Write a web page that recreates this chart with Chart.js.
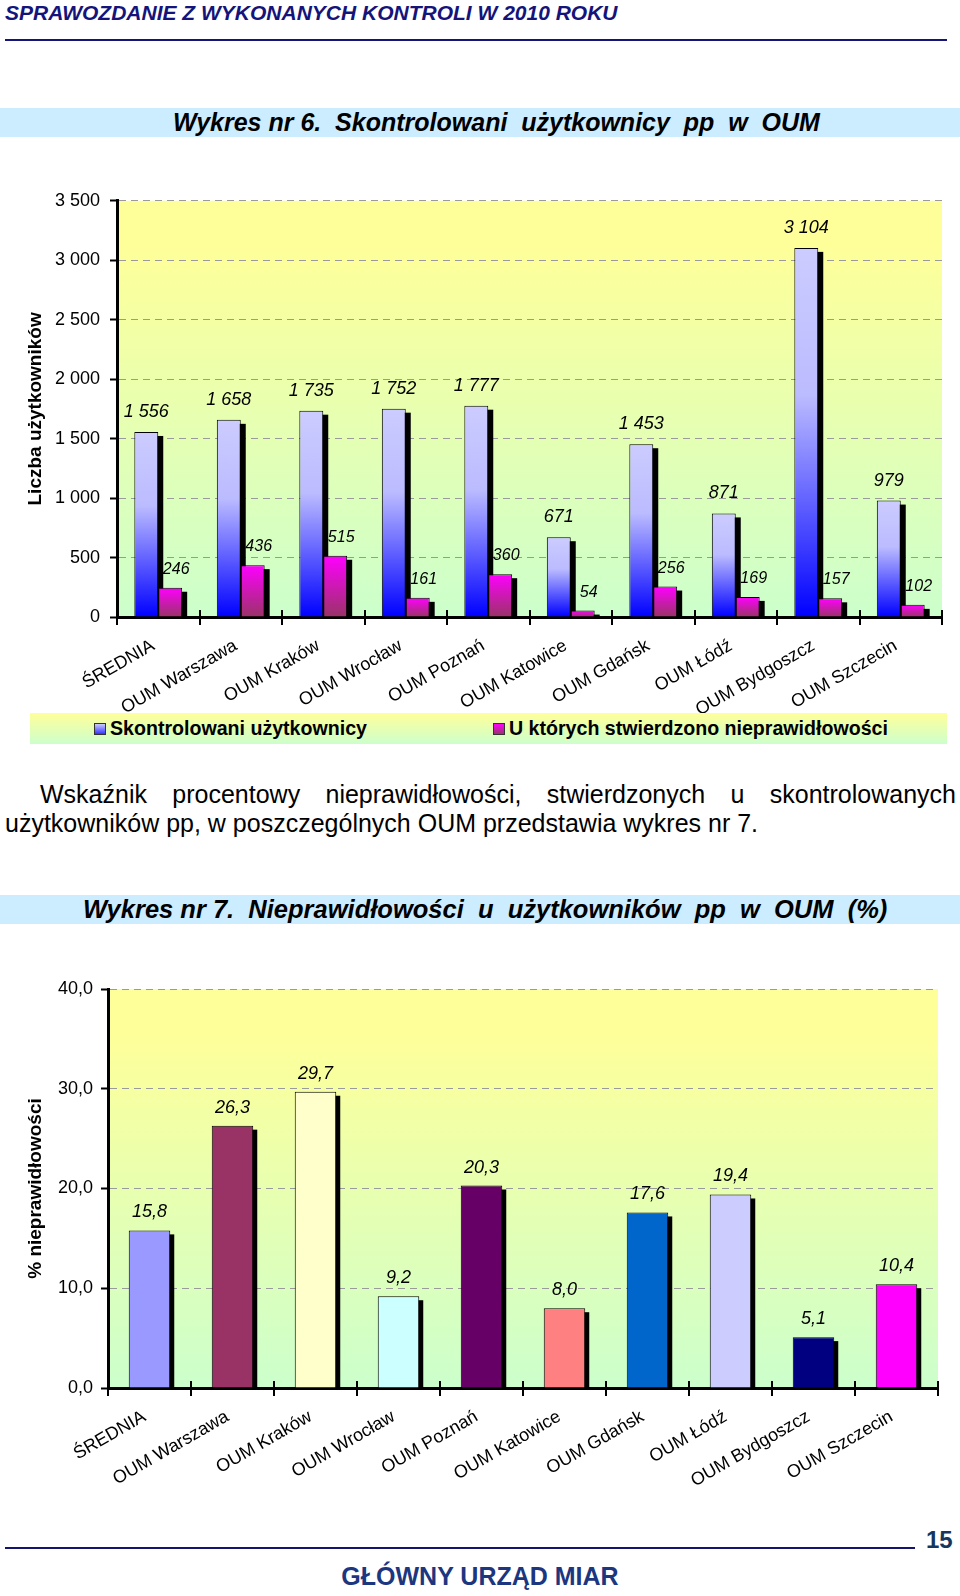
<!DOCTYPE html>
<html lang="pl"><head><meta charset="utf-8">
<script src="https://cdn.jsdelivr.net/npm/chart.js@4.4.0/dist/chart.umd.min.js"></script>
<style>
html,body{margin:0;padding:0;background:#fff;}
body{width:960px;height:1596px;position:relative;overflow:hidden;font-family:"Liberation Sans",Arial,sans-serif;color:#000;}
.abs{position:absolute;}
#hdr{left:5px;top:1px;font:italic bold 21px/24px "Liberation Sans",Arial,sans-serif;color:#14147a;white-space:nowrap;}
#hdrline{left:5px;top:39px;width:942px;height:2px;background:#14147a;}
.band{left:0;width:960px;height:29px;background:#CCECFF;font-style:italic;font-weight:bold;line-height:29px;white-space:pre;box-sizing:border-box;}
#band1{top:108px;font-size:25px;padding-left:173px;}
#band2{top:895px;font-size:25.5px;padding-left:83px;}
#leg{left:30px;top:713px;width:917px;height:31px;background:linear-gradient(#FFFF99,#CCFFCC);font-weight:bold;font-size:19.6px;line-height:31px;white-space:nowrap;}
.sq{position:absolute;top:10px;width:10px;height:10px;border:1px solid #333;}
.lt{position:absolute;top:0;}
#para{left:5px;top:780px;width:951px;font-size:25px;line-height:29px;text-align:justify;text-indent:35px;}
#footline{left:5px;top:1547px;width:910px;height:2px;background:#14146e;}
#pnum{left:926px;top:1526px;font:bold 24px/28px "Liberation Sans",Arial,sans-serif;color:#17365D;}
#gum{left:0;width:960px;top:1561px;text-align:center;font:bold 25px/30px "Liberation Sans",Arial,sans-serif;color:#1c3680;}
canvas{position:absolute;left:0;}
</style></head>
<body>
<div id="hdr" class="abs">SPRAWOZDANIE Z WYKONANYCH KONTROLI W 2010 ROKU</div>
<div id="hdrline" class="abs"></div>
<div id="band1" class="abs band">Wykres nr 6.  Skontrolowani  użytkownicy  pp  w  OUM</div>
<canvas id="c1" width="960" height="545" style="top:180px;width:960px;height:545px;"></canvas>
<div id="leg" class="abs">
  <div class="sq" style="left:64px;background:linear-gradient(#CCCCFF,#3333FF);"></div>
  <div class="lt" style="left:80px;">Skontrolowani użytkownicy</div>
  <div class="sq" style="left:463px;background:linear-gradient(#FF00FF,#993366);"></div>
  <div class="lt" style="left:479px;">U których stwierdzono nieprawidłowości</div>
</div>
<div id="para" class="abs">Wskaźnik procentowy nieprawidłowości, stwierdzonych u skontrolowanych użytkowników pp, w poszczególnych OUM przedstawia wykres nr 7.</div>
<div id="band2" class="abs band">Wykres nr 7.  Nieprawidłowości  u  użytkowników  pp  w  OUM  (%)</div>
<canvas id="c2" width="960" height="540" style="top:960px;width:960px;height:540px;"></canvas>
<div id="footline" class="abs"></div>
<div id="pnum" class="abs">15</div>
<div id="gum" class="abs">GŁÓWNY URZĄD MIAR</div>
<script>
// ---- DATA ----
const categories = ['ŚREDNIA','OUM Warszawa','OUM Kraków','OUM Wrocław','OUM Poznań','OUM Katowice','OUM Gdańsk','OUM Łódź','OUM Bydgoszcz','OUM Szczecin'];
const checkedUsers = [1556,1658,1735,1752,1777,671,1453,871,3104,979];
const irregularUsers = [246,436,515,161,360,54,256,169,157,102];
const irregularPercent = [15.8,26.3,29.7,9.2,20.3,8.0,17.6,19.4,5.1,10.4];
const percentColors = ['#9999FF','#993366','#FFFFCC','#CCFFFF','#660066','#FF8080','#0066CC','#CCCCFF','#000080','#FF00FF'];
const seriesNames = ['Skontrolowani użytkownicy','U których stwierdzono nieprawidłowości'];
const usersAxis = {min:0, max:3500, step:500};
const percentAxis = {min:0, max:40, step:10};

Chart.defaults.font.family = '"Liberation Sans", Arial, sans-serif';
Chart.defaults.color = '#000';

const fmtThousands = v => String(v).replace(/\B(?=(\d{3})+(?!\d))/g, ' ');
const fmtComma = v => Number(v).toFixed(1).replace('.', ',');

function barGradient(stops){
  return (c) => {
    const chart = c.chart;
    if (c.type !== 'data' || !chart.chartArea || !chart.scales.y) return stops[stops.length-1][1];
    const ys = chart.scales.y;
    const top = ys.getPixelForValue(c.parsed.y), base = ys.getPixelForValue(0);
    const g = chart.ctx.createLinearGradient(0, top, 0, base);
    stops.forEach(s => g.addColorStop(s[0], s[1]));
    return g;
  };
}

const plotBg = {
  id:'plotBg',
  beforeDraw(chart){
    const {ctx, chartArea:a} = chart;
    const g = ctx.createLinearGradient(0, a.top, 0, a.bottom);
    g.addColorStop(0, '#FFFF99'); g.addColorStop(0.1, '#FFFF99'); g.addColorStop(1, '#CCFFCC');
    ctx.save(); ctx.fillStyle = g; ctx.fillRect(a.left, a.top, a.right-a.left, a.bottom-a.top); ctx.restore();
  }
};
const barShadow = {
  id:'barShadow',
  beforeDatasetsDraw(chart, args, opts){
    const {ctx, chartArea:a} = chart;
    ctx.save();
    ctx.beginPath(); ctx.rect(a.left, a.top, a.right-a.left, a.bottom-a.top); ctx.clip();
    ctx.fillStyle = '#000';
    chart.data.datasets.forEach((ds, i) => {
      chart.getDatasetMeta(i).data.forEach(el => {
        const p = el.getProps(['x','y','base','width'], true);
        ctx.fillRect(p.x - p.width/2 + opts.dx, p.y + opts.dy, p.width, p.base - p.y);
      });
    });
    ctx.restore();
  }
};
const valueLabels = {
  id:'valueLabels',
  afterDatasetsDraw(chart, args, opts){
    const ctx = chart.ctx;
    chart.data.datasets.forEach((ds, i) => {
      const cfg = opts.sets[i];
      ctx.save();
      ctx.font = cfg.font; ctx.fillStyle = '#000'; ctx.textAlign = 'center'; ctx.textBaseline = 'alphabetic';
      chart.getDatasetMeta(i).data.forEach((el, j) => {
        const p = el.getProps(['x','y'], true);
        ctx.fillText(cfg.format(ds.data[j]), p.x + cfg.dx, p.y - cfg.dy);
      });
      ctx.restore();
    });
  }
};
const crossTicks = {
  id:'crossTicks',
  afterDraw(chart, args, opts){
    const xs = chart.scales.x, ctx = chart.ctx, yb = chart.chartArea.bottom;
    ctx.save(); ctx.strokeStyle = '#000'; ctx.lineWidth = 2;
    for (let i = 0; i <= chart.data.labels.length; i++){
      const px = Math.round(xs.getPixelForValue(i - 0.5));
      ctx.beginPath(); ctx.moveTo(px, yb - opts.len); ctx.lineTo(px, yb); ctx.stroke();
    }
    ctx.restore();
  }
};

function xScale(h){
  return {
    z:1,
    grid:{display:true, drawOnChartArea:false, drawTicks:true, tickLength:8, tickWidth:2, tickColor:'#000', color:'#000', lineWidth:2, offset:true},
    border:{display:true, color:'#000', width:3},
    ticks:{autoSkip:false, minRotation:30, maxRotation:30, padding:10, labelOffset:-5, color:'#000', font:{size:18}},
    afterFit: s => { s.height = h; }
  };
}
function yScale(ax, w, fmt, title, pad){
  return {
    min:ax.min, max:ax.max,
    ticks:{stepSize:ax.step, padding:pad, color:'#000', font:{size:18}, callback: v => fmt(v)},
    grid:{color:'#9a9a9a', lineWidth:1, tickColor:'#000', tickLength:7, tickWidth:2},
    border:{display:true, color:'#000', width:3, dash:[7,5]},
    title:{display:true, text:title, color:'#000', font:{size:19, weight:'bold'}, padding:{top:24, bottom:0}},
    afterFit: s => { s.width = w; }
  };
}

new Chart(document.getElementById('c1'), {
  type:'bar',
  data:{
    labels:categories,
    datasets:[
      {label:seriesNames[0], data:checkedUsers, borderColor:'#000', borderWidth:1,
       backgroundColor: barGradient([[0,'#CCCCFF'],[0.4,'#BBBBFF'],[1,'#0000FF']]),
       categoryPercentage:0.58, barPercentage:1},
      {label:seriesNames[1], data:irregularUsers, borderColor:'#000', borderWidth:1,
       backgroundColor: barGradient([[0,'#FF00FF'],[1,'#993366']]),
       categoryPercentage:0.58, barPercentage:1}
    ]
  },
  options:{
    responsive:false, animation:false, devicePixelRatio:1,
    layout:{padding:{top:20, right:18, left:0, bottom:0}},
    scales:{ x:xScale(108), y:yScale(usersAxis, 117, fmtThousands, 'Liczba użytkowników', 10) },
    plugins:{
      legend:{display:false}, tooltip:{enabled:false},
      barShadow:{dx:5, dy:4},
      crossTicks:{len:7},
      valueLabels:{sets:[
        {font:'italic 18px "Liberation Sans", Arial, sans-serif', dx:0, dy:15, format:fmtThousands},
        {font:'italic 16px "Liberation Sans", Arial, sans-serif', dx:6, dy:14, format:fmtThousands}
      ]}
    }
  },
  plugins:[plotBg, barShadow, valueLabels, crossTicks]
});

new Chart(document.getElementById('c2'), {
  type:'bar',
  data:{
    labels:categories,
    datasets:[
      {label:'% nieprawidłowości', data:irregularPercent, backgroundColor:percentColors, borderColor:'#000', borderWidth:1,
       categoryPercentage:1, barPercentage:0.5}
    ]
  },
  options:{
    responsive:false, animation:false, devicePixelRatio:1,
    layout:{padding:{top:29, right:22, left:0, bottom:0}},
    scales:{ x:xScale(112), y:yScale(percentAxis, 108, fmtComma, '% nieprawidłowości', 8) },
    plugins:{
      legend:{display:false}, tooltip:{enabled:false},
      barShadow:{dx:4, dy:4},
      crossTicks:{len:7},
      valueLabels:{sets:[
        {font:'italic 18px "Liberation Sans", Arial, sans-serif', dx:0, dy:13, format:fmtComma}
      ]}
    }
  },
  plugins:[plotBg, barShadow, valueLabels, crossTicks]
});
</script>
</body></html>
